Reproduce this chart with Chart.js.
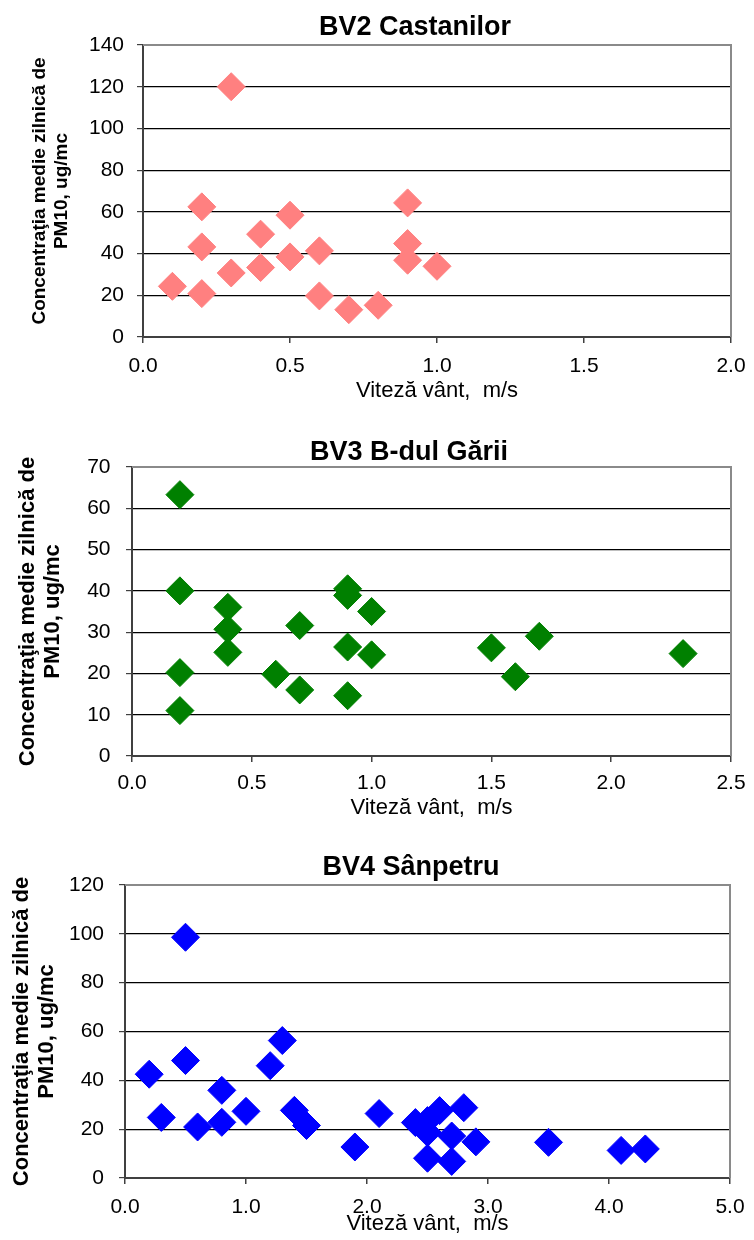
<!DOCTYPE html>
<html>
<head>
<meta charset="utf-8">
<script src="https://cdn.jsdelivr.net/npm/chart.js@4.4.1/dist/chart.umd.min.js"></script>
<style>
  body { margin: 0; background: #fff; }
  .box { position: absolute; left: 0; width: 754px; }
</style>
</head>
<body>
<div class="box" style="top:0"><canvas id="c1" width="754" height="413"></canvas></div>
<div class="box" style="top:413px"><canvas id="c2" width="754" height="413"></canvas></div>
<div class="box" style="top:826px"><canvas id="c3" width="754" height="414"></canvas></div>
<script>
// BV2 Castanilor
const bv2Speed = [0.1, 0.2, 0.2, 0.2, 0.3, 0.3, 0.4, 0.4, 0.5, 0.5, 0.6, 0.6, 0.7, 0.8, 0.9, 0.9, 0.9, 1.0];
const bv2Pm10 = [24.3, 62.4, 43.2, 20.8, 120, 30.7, 49.3, 33.3, 58.4, 38.4, 41.3, 19.7, 13.1, 15.2, 64.3, 44.8, 36.8, 33.9];

// BV3 B-dul Garii
const bv3Speed = [0.2, 0.2, 0.2, 0.2, 0.4, 0.4, 0.4, 0.6, 0.7, 0.7, 0.9, 0.9, 0.9, 0.9, 1.0, 1.0, 1.5, 1.6, 1.7, 2.3];
const bv3Pm10 = [63.3, 40.0, 20.2, 11.0, 36.0, 30.7, 25.1, 19.8, 31.6, 16.0, 40.5, 38.9, 26.4, 14.6, 35.0, 24.5, 26.2, 19.2, 29.0, 24.8];

// BV4 Sanpetru
const bv4Speed = [0.2, 0.3, 0.5, 0.5, 0.6, 0.8, 0.8, 1.0, 1.2, 1.3, 1.4, 1.5, 1.9, 2.1, 2.4, 2.5, 2.5, 2.5, 2.6, 2.7, 2.7, 2.8, 2.9, 3.5, 4.1, 4.3];
const bv4Pm10 = [42.5, 24.8, 98.6, 48.1, 20.9, 35.9, 22.8, 27.3, 46.0, 56.3, 27.7, 21.5, 12.7, 26.4, 22.7, 23.5, 18.6, 8.1, 27.6, 6.8, 17.2, 28.8, 14.8, 14.6, 11.3, 11.9];

const titles = ['BV2 Castanilor', 'BV3 B-dul Gării', 'BV4 Sânpetru'];
const yTitle = ['Concentraţia medie zilnică de', 'PM10, ug/mc'];
const xTitle = 'Viteză vânt,  m/s';

const FONT = '"Liberation Sans", Arial, sans-serif';

// chart title drawn at a fixed spot (Excel centres it off the plot)
const mainTitle = {
  id: 'mainTitle',
  afterDraw(chart, args, opts) {
    const ctx = chart.ctx;
    ctx.save();
    ctx.font = 'bold 27px ' + FONT;
    ctx.fillStyle = '#000';
    ctx.textAlign = 'center';
    ctx.textBaseline = 'middle';
    ctx.fillText(opts.text, opts.x, opts.y);
    ctx.restore();
  }
};

// grey frame on top and right of the plot area
const plotFrame = {
  id: 'plotFrame',
  beforeDatasetsDraw(chart) {
    const ctx = chart.ctx;
    const a = chart.chartArea;
    ctx.save();
    ctx.strokeStyle = '#8a8a8a';
    ctx.lineWidth = 2;
    ctx.beginPath();
    ctx.moveTo(a.left, a.top);
    ctx.lineTo(a.right, a.top);
    ctx.lineTo(a.right, a.bottom);
    ctx.stroke();
    ctx.restore();
  }
};

function makeChart(id, cfg) {
  const points = cfg.xs.map((x, i) => ({ x: x, y: cfg.ys[i] }));
  return new Chart(document.getElementById(id), {
    type: 'scatter',
    data: {
      datasets: [{
        data: points,
        pointStyle: 'rectRot',
        pointRadius: 14,
        backgroundColor: cfg.color,
        borderColor: cfg.color,
        borderWidth: 1
      }]
    },
    options: {
      responsive: false,
      animation: false,
      events: [],
      layout: { padding: { top: cfg.top, right: cfg.right, left: 0, bottom: 0 } },
      plugins: {
        legend: { display: false },
        tooltip: { enabled: false },
        mainTitle: { text: cfg.title, x: cfg.titleX, y: cfg.titleY }
      },
      scales: {
        x: {
          type: 'linear',
          min: 0,
          max: cfg.xMax,
          ticks: {
            stepSize: cfg.xStep,
            callback: v => v.toFixed(1),
            color: '#000',
            padding: cfg.xTickPad,
            font: { family: FONT, size: 21 }
          },
          grid: { drawOnChartArea: false, tickLength: 6, color: '#404040', lineWidth: 1.5 },
          border: { color: '#404040', width: 2 },
          title: {
            display: true,
            text: xTitle,
            color: '#000',
            font: { family: FONT, size: 22, lineHeight: 1 },
            padding: { top: 0, bottom: cfg.xTitlePad }
          },
          afterFit: s => { s.height = cfg.xHeight; s.paddingLeft = 0; s.paddingRight = 0; }
        },
        y: {
          min: 0,
          max: cfg.yMax,
          ticks: {
            stepSize: cfg.yStep,
            color: '#000',
            padding: cfg.yTickPad,
            font: { family: FONT, size: 21 }
          },
          grid: {
            tickLength: 6,
            tickColor: '#404040',
            lineWidth: 1.2,
            color: c => (c.tick && c.tick.value === cfg.yMax) ? 'rgba(0,0,0,0)' : '#000'
          },
          border: { color: '#404040', width: 2 },
          title: {
            display: true,
            text: yTitle,
            color: '#000',
            font: { family: FONT, size: cfg.yTitleSize, weight: 'bold', lineHeight: cfg.yTitleLine },
            padding: { top: cfg.yTitlePad, bottom: 0 }
          },
          afterFit: s => { s.width = cfg.yWidth; s.paddingTop = 0; s.paddingBottom = 0; }
        }
      }
    },
    plugins: [mainTitle, plotFrame]
  });
}

makeChart('c1', {
  xs: bv2Speed, ys: bv2Pm10, color: '#FF8080',
  title: titles[0], titleX: 415, titleY: 28,
  top: 45, right: 23, yWidth: 143, xHeight: 76,
  xMax: 2, xStep: 0.5, yMax: 140, yStep: 20,
  xTickPad: 11, yTickPad: 13, xTitlePad: 11.5,
  yTitleSize: 19, yTitleLine: 22 / 19, yTitlePad: 29
});

makeChart('c2', {
  xs: bv3Speed, ys: bv3Pm10, color: '#008000',
  title: titles[1], titleX: 409, titleY: 40,
  top: 54, right: 23, yWidth: 132, xHeight: 70,
  xMax: 2.5, xStep: 0.5, yMax: 70, yStep: 10,
  xTickPad: 9, yTickPad: 15.5, xTitlePad: 7,
  yTitleSize: 22, yTitleLine: 25 / 22, yTitlePad: 15.5
});

makeChart('c3', {
  xs: bv4Speed, ys: bv4Pm10, color: '#0000FF',
  title: titles[2], titleX: 411, titleY: 42,
  top: 59, right: 24, yWidth: 125, xHeight: 62,
  xMax: 5, xStep: 1, yMax: 120, yStep: 20,
  xTickPad: 11, yTickPad: 15, xTitlePad: 5,
  yTitleSize: 22, yTitleLine: 25 / 22, yTitlePad: 9
});
</script>
</body>
</html>
